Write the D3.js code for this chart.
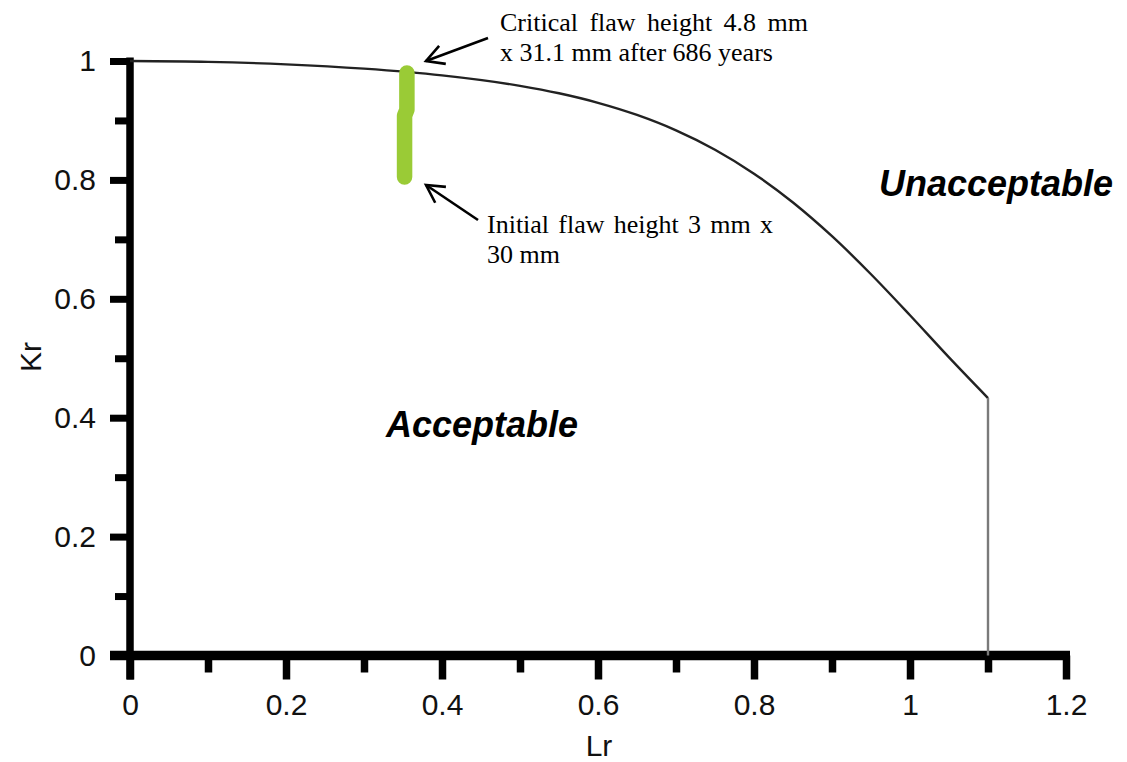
<!DOCTYPE html>
<html>
<head>
<meta charset="utf-8">
<script src="https://cdn.jsdelivr.net/npm/d3@7"></script>
<style>
  html, body { margin: 0; padding: 0; background: #fff; }
  svg { display: block; }
</style>
</head>
<body>
<svg id="chart" width="1127" height="762"></svg>
<script>
// Failure assessment diagram: Kr vs Lr with the assessment line and a flaw growth path.

// Assessment line (Lr, Kr), cut off at Lr max
const fadLr = [0, 0.1, 0.2, 0.3, 0.4, 0.5, 0.55, 0.6, 0.65, 0.7, 0.75, 0.8, 0.85, 0.9, 0.95, 1.0, 1.05, 1.1];
const fadKr = [1.0, 0.9986, 0.9944, 0.9871, 0.9758, 0.9582, 0.9457, 0.9297, 0.9093, 0.8834, 0.8508, 0.8105, 0.762, 0.7053, 0.6413, 0.5723, 0.5014, 0.433];
const lrMax = 1.1;

// Flaw growth path from initial to critical size
const flawLr = [0.352, 0.352, 0.352, 0.355, 0.355, 0.355];
const flawKr = [0.805, 0.86, 0.908, 0.918, 0.95, 0.98];

// Axis ticks
const xMajorTicks = [0, 0.2, 0.4, 0.6, 0.8, 1, 1.2];
const xMinorTicks = [0.1, 0.3, 0.5, 0.7, 0.9, 1.1];
const yMajorTicks = [0, 0.2, 0.4, 0.6, 0.8, 1];
const yMinorTicks = [0.1, 0.3, 0.5, 0.7, 0.9];

const xTitle = "Lr";
const yTitle = "Kr";
const regionLabels = [
  { text: "Acceptable", x: 482, y: 437 },
  { text: "Unacceptable", x: 996, y: 196 }
];
const notes = [
  { lines: ["Critical flaw height 4.8 mm", "x 31.1 mm after 686 years"], x: 500, y: 31, fit: [308, null],
    arrow: { from: [488, 38], to: [426, 61] } },
  { lines: ["Initial flaw height 3 mm x", "30 mm"], x: 487, y: 233, fit: [286, null],
    arrow: { from: [478, 220], to: [426, 185] } }
];

const svg = d3.select("#chart");
const x = d3.scaleLinear().domain([0, 1.2]).range([130, 1066]);
const y = d3.scaleLinear().domain([0, 1]).range([655.5, 61]);

const sansFont = "'Liberation Sans', Arial, sans-serif";
const serifFont = "'Liberation Serif', 'Times New Roman', serif";

// ---- X axis ----
const gx = svg.append("g").attr("transform", `translate(0,${y(0)})`);
gx.call(d3.axisBottom(x).tickValues(xMinorTicks).tickSize(17).tickSizeOuter(0).tickFormat(""));
gx.call(g => g.select(".domain").remove());
const gx2 = svg.append("g").attr("transform", `translate(0,${y(0)})`);
gx2.call(d3.axisBottom(x).tickValues(xMajorTicks).tickSize(24).tickSizeOuter(0)
  .tickFormat(d => d3.format("")(d)).tickPadding(14));
gx2.select(".domain").remove();
svg.selectAll("g").selectAll(".tick line").attr("stroke", "#000").attr("stroke-width", 7.5);
gx2.selectAll(".tick text")
  .attr("font-family", sansFont).attr("font-size", 30).attr("fill", "#111");
svg.append("line")
  .attr("x1", 110).attr("x2", x(1.2) + 4)
  .attr("y1", y(0)).attr("y2", y(0))
  .attr("stroke", "#000").attr("stroke-width", 9.5);

// ---- Y axis ----
const gy = svg.append("g").attr("transform", `translate(${x(0)},0)`);
gy.call(d3.axisLeft(y).tickValues(yMinorTicks).tickSize(15).tickSizeOuter(0).tickFormat(""));
gy.select(".domain").remove();
const gy2 = svg.append("g").attr("transform", `translate(${x(0)},0)`);
gy2.call(d3.axisLeft(y).tickValues(yMajorTicks).tickSize(20).tickSizeOuter(0)
  .tickFormat(d => d3.format("")(d)).tickPadding(14));
gy2.select(".domain").remove();
gy.selectAll(".tick line").attr("stroke", "#000").attr("stroke-width", 7);
gy2.selectAll(".tick line").attr("stroke", "#000").attr("stroke-width", 7);
gy2.selectAll(".tick text")
  .attr("font-family", sansFont).attr("font-size", 30).attr("fill", "#111");
svg.append("line")
  .attr("x1", x(0)).attr("x2", x(0))
  .attr("y1", y(1) - 3.5).attr("y2", y(0) + 24)
  .attr("stroke", "#000").attr("stroke-width", 7.5);

// ---- Axis titles ----
svg.append("text")
  .attr("x", (x(0) + x(1.2)) / 2 + 1).attr("y", 756)
  .attr("text-anchor", "middle")
  .attr("font-family", sansFont).attr("font-size", 30).attr("fill", "#111")
  .text(xTitle);
svg.append("text")
  .attr("transform", `translate(41,${357}) rotate(-90)`)
  .attr("text-anchor", "middle")
  .attr("font-family", sansFont).attr("font-size", 30).attr("fill", "#111")
  .text(yTitle);

// ---- Assessment line ----
const fad = fadLr.map((d, i) => [d, fadKr[i]]);
svg.append("path")
  .datum(fad)
  .attr("d", d3.line().x(d => x(d[0])).y(d => y(d[1])).curve(d3.curveMonotoneX))
  .attr("fill", "none").attr("stroke", "#222").attr("stroke-width", 2.4);
svg.append("line")
  .attr("x1", x(lrMax)).attr("x2", x(lrMax))
  .attr("y1", y(fadKr[fadKr.length - 1])).attr("y2", y(0))
  .attr("stroke", "#7a7a7a").attr("stroke-width", 2.4);

// ---- Flaw growth path ----
const flaw = flawLr.map((d, i) => [d, flawKr[i]]);
svg.append("path")
  .datum(flaw)
  .attr("d", d3.line().x(d => x(d[0])).y(d => y(d[1])))
  .attr("fill", "none").attr("stroke", "#9acb36")
  .attr("stroke-width", 15.5).attr("stroke-linecap", "round").attr("stroke-linejoin", "round");

// ---- Region labels ----
svg.selectAll(".region")
  .data(regionLabels)
  .join("text")
  .attr("class", "region")
  .attr("x", d => d.x).attr("y", d => d.y)
  .attr("text-anchor", "middle")
  .attr("font-family", sansFont).attr("font-size", 36)
  .attr("font-weight", "bold").attr("font-style", "italic").attr("fill", "#000")
  .text(d => d.text);

// ---- Annotations with arrows ----
function arrow(g, from, to) {
  g.append("line")
    .attr("x1", from[0]).attr("y1", from[1]).attr("x2", to[0]).attr("y2", to[1])
    .attr("stroke", "#000").attr("stroke-width", 2.6);
  const ang = Math.atan2(from[1] - to[1], from[0] - to[0]);
  const len = 20, spread = 0.5;
  const p1 = [to[0] + len * Math.cos(ang + spread), to[1] + len * Math.sin(ang + spread)];
  const p2 = [to[0] + len * Math.cos(ang - spread), to[1] + len * Math.sin(ang - spread)];
  g.append("path")
    .attr("d", `M${p1[0]},${p1[1]}L${to[0]},${to[1]}L${p2[0]},${p2[1]}`)
    .attr("fill", "none").attr("stroke", "#000").attr("stroke-width", 2.6)
    .attr("stroke-linejoin", "miter");
}

notes.forEach(n => {
  const g = svg.append("g");
  n.lines.forEach((line, i) => {
    const t = g.append("text")
      .attr("x", n.x).attr("y", n.y + i * 29.5)
      .attr("font-family", serifFont).attr("font-size", 26).attr("fill", "#000")
      .text(line);
    const target = n.fit[i];
    if (target) {
      const natural = t.node().getComputedTextLength();
      const gaps = line.split(" ").length - 1;
      if (gaps > 0 && target > natural) t.attr("word-spacing", (target - natural) / gaps);
    }
  });
  arrow(g, n.arrow.from, n.arrow.to);
});
</script>
</body>
</html>
